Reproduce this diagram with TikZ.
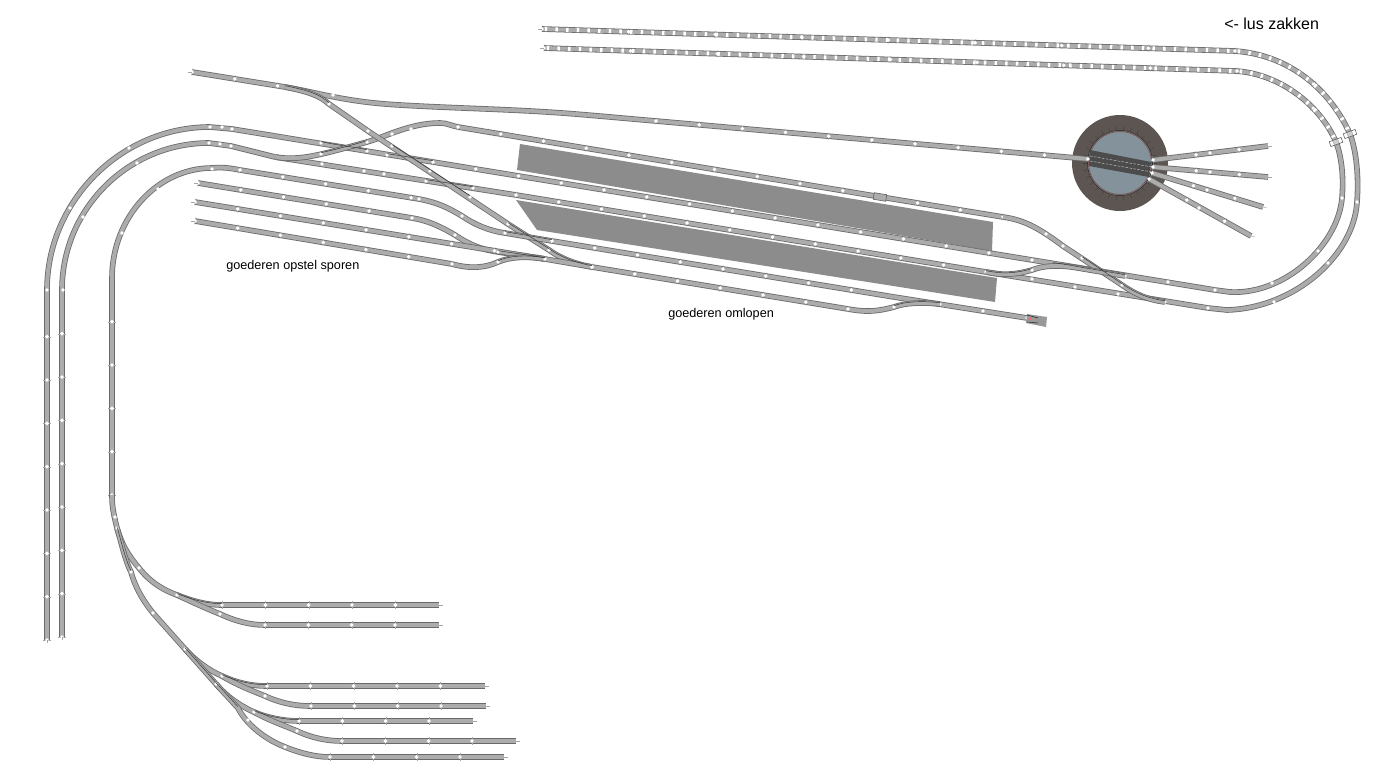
\documentclass[tikz,border=0pt]{standalone}
\usepackage{fontspec}
\setmainfont{Liberation Sans}
\usetikzlibrary{decorations.markings}
\definecolor{railedge}{HTML}{6A6A6A}
\definecolor{railfill}{HTML}{ACACAC}
\definecolor{platform}{HTML}{8C8C8C}
\definecolor{pitwall}{HTML}{5C5551}
\definecolor{pitfloor}{HTML}{84939B}
\definecolor{pitring}{HTML}{7A5F5F}
\definecolor{bridge}{HTML}{4C4C4C}
\tikzset{
  rail/.style={preaction={draw=railedge,line width=4.2pt},draw=railfill,line width=3pt},
  track/.style={rail,postaction={decorate,decoration={markings,
    mark=between positions 0 and -5pt step 32.5pt with {
      \draw[line width=0.2pt,draw=railedge!60] (0,-2.8pt) -- (0,2.8pt);
      \fill[white] (0,0) circle (1.45pt);}}}},
  lustrack/.style={rail,postaction={decorate,decoration={markings,
    mark=between positions 3pt and -3pt step 8pt with {
      \fill[white] (-0.9pt,-1.5pt) rectangle (0.9pt,1.5pt);}}},
    postaction={decorate,decoration={markings,
    mark=between positions 0 and -5pt step 65pt with {
      \draw[line width=0.2pt,draw=railedge!60] (0,-2.8pt) -- (0,2.8pt);
      \fill[white] (0,0) circle (1.45pt);}}}},
  joint/.style={fill=white},
  blade/.style={draw=black!80,line width=0.35pt,yshift=-1pt},
  stub/.style={draw=railedge!60,line width=0.3pt},
  feeder/.style={draw=black!65,fill=white,fill opacity=0.45,line width=0.4pt,minimum width=9.5pt,minimum height=3.8pt,inner sep=0pt},
  labeltext/.style={anchor=west,inner sep=0pt,font=\fontsize{9.5}{11}\selectfont},
}
\newcommand{\joints}[1]{\foreach \p in {#1} {\fill [joint] \p circle (1.95) ;}}
\begin{document}
\begin{tikzpicture}[x=0.75pt,y=0.75pt,yscale=-1,xscale=1]
\useasboundingbox (0,0) rectangle (1388,774);

%Shape: Platforms
\fill [platform] (520,144) -- (993,222) -- (992,251) -- (517,170) -- cycle ;
\fill [platform] (516,200) -- (997,278) -- (995,302) -- (537,230) -- cycle ;

%Shape: Turntable
\fill [pitwall] (1120,163) circle (48) ;
\foreach \a in {0,12,...,348} {\draw [black!75,line width=0.3pt] (1120,163) ++(\a:32) -- ++(\a:5) ;}
\draw [black!85,fill=pitfloor,line width=0.4pt] (1120,163) circle (32.5) ;
\draw [pitring,line width=0.8pt] (1120,163) circle (31.5) ;
\fill [bridge] (1090,150) -- (1151,162) -- (1149,177) -- (1089,166) -- cycle ;
\draw [white!80!black,dashed,dash pattern=on 2pt off 1pt,line width=0.3pt] (1090,156) -- (1152,167) (1090,161) -- (1152,172) ;

%Shape: Turntable spurs
\draw [track] (1153,160) -- (1268,146) ;
\draw [track] (1153,167) -- (1268,177) ;
\draw [track] (1152,173) -- (1263,207) ;
\draw [track] (1149,179) -- (1251,236) ;
\joints{(1210,153),(1210,172),(1207,190),(1199,208)}

%Shape: Lus
\draw [lustrack] (542,29) -- (1235,51) .. controls (1290,55) and (1330,90) .. (1350,134) ;
\draw [lustrack] (544,48) -- (1236,71) .. controls (1280,74) and (1320,105) .. (1336,142) ;
\draw [rail] (1350,134) .. controls (1356,150) and (1359,175) .. (1357,202) .. controls (1354,255) and (1295,308) .. (1227,310) -- (1208,308) ;
\draw [rail] (1336,142) .. controls (1341,155) and (1344,175) .. (1342,198) .. controls (1338,245) and (1285,295) .. (1230,292) -- (1215,290) ;
\joints{(1357,202),(1328,263),(1274,302),(1342,198),(1318,251),(1272,283)}

%Shape: Left curves
\draw [track] (47,640) -- (47,290) ;
\draw [rail] (47,290) .. controls (47,201) and (121,127) .. (210,127) -- (232,129) -- (275,136) ;
\draw [track] (62,637) -- (62,290) ;
\draw [rail] (62,290) .. controls (62,209) and (128,143) .. (209,143) -- (231,146) -- (275,157) ;
\joints{(47,290),(70,208),(129,148),(210,127),(222,127),(232,129),(63,290),(83,217),(137,163),(209,143),(220,144),(231,146)}

%Shape: Main through lines
\draw [rail] (275,136) -- (433,162) ;
\draw [track] (433,162) -- (1032,260) ;
\draw [rail] (1032,260) -- (1215,290) ;
\joints{(321,143),(367,151),(387,155),(1032,260),(1078,268),(1125,276),(1168,282),(1215,290)}
\draw [rail] (275,157) -- (516,195) ;
\draw [track] (516,195) -- (986,272) ;
\draw [rail] (986,272) -- (1208,308) ;
\joints{(322,164),(364,171),(384,174),(426,181),(473,188),(986,272),(1032,279),(1075,287),(1118,294),(1165,302),(1208,308)}

%Shape: Upper platform loop
\draw [rail] (275,157) .. controls (300,161) and (320,155) .. (367,142) .. controls (385,137) and (410,123) .. (440,123) .. controls (447,123) and (452,126) .. (458,127) ;
\draw [track] (458,127) -- (875,196) ;
\draw [track] (1003,217) -- (875,196) ;
\draw [rail] (1003,217) .. controls (1025,220) and (1040,229) .. (1063,246) -- (1122,285) .. controls (1135,294) and (1148,300) .. (1165,302) ;
\joints{(321,154),(367,142),(392,134),(411,129),(1046,234),(1063,246),(1082,258),(1122,285)}

%Shape: Crossover at the right
\draw [rail] (986,272) .. controls (1005,276) and (1018,274) .. (1032,270) .. controls (1045,265) and (1060,265) .. (1078,268) -- (1125,276) ;
\joints{(1032,270)}

%Shape: Upper track and diagonal
\draw [track] (192,72) -- (285,87) ;
\draw [rail] (285,87) .. controls (320,93) and (345,102) .. (400,105) .. controls (450,108) and (500,109) .. (547,112) .. controls (580,114) and (620,118) .. (656,121) ;
\draw [track] (656,121) -- (1088,159) ;
\draw [rail] (285,87) .. controls (310,92) and (320,96) .. (329,104) -- (368,131) -- (508,224) -- (549,250) .. controls (560,258) and (575,264) .. (592,267) ;
\joints{(333,95),(1088,159),(329,104),(368,131),(392,146),(430,171),(470,197),(508,224),(549,250)}

%Shape: Goods road with curve
\draw [rail] (212,168) .. controls (157,168) and (112,218) .. (112,278) ;
\draw [track] (112,495) -- (112,278) ;
\draw [rail] (212,168) .. controls (222,167) and (230,168) .. (240,170) ;
\draw [track] (240,170) -- (419,199) ;
\draw [rail] (419,199) .. controls (440,203) and (450,209) .. (462,216) .. controls (475,225) and (490,231) .. (505,233) -- (552,241) ;
\draw [track] (552,241) -- (894,297) ;
\draw [rail] (894,297) -- (1027,318) ;
\joints{(158,189),(122,233),(212,169),(419,199),(462,216),(505,233),(940,304),(983,311),(1027,318)}

%Shape: Goods sidings
\draw [track] (198,183) -- (412,218) ;
\draw [rail] (412,218) .. controls (430,221) and (443,228) .. (455,235) .. controls (470,245) and (480,249) .. (498,252) -- (545,259) ;
\draw [track] (195,202) -- (545,259) ;
\draw [rail] (545,259) -- (592,267) ;
\draw [track] (195,221) -- (452,264) ;
\draw [rail] (452,264) .. controls (470,269) and (485,268) .. (498,262) .. controls (510,257) and (525,256) .. (545,259) ;
\draw [track] (592,267) -- (848,309) ;
\draw [rail] (848,309) .. controls (865,312) and (875,312) .. (894,307) .. controls (905,303) and (920,302) .. (940,304) ;
\joints{(412,218),(455,235),(498,252),(452,264),(498,262),(545,259),(592,267),(848,309),(894,307)}

%Shape: Lower yard
\draw [rail] (112,495) .. controls (112,505) and (113,512) .. (117,528) ;
\draw [rail] (117,528) .. controls (122,545) and (128,555) .. (139,568) .. controls (150,582) and (163,590) .. (177,595) .. controls (190,600) and (205,605) .. (222,605) ;
\draw [track] (222,605) -- (439,605) ;
\draw [rail] (177,595) .. controls (190,601) and (205,608) .. (220,614) .. controls (235,621) and (250,625) .. (265,625) ;
\draw [track] (265,625) -- (439,625) ;
\draw [rail] (117,528) .. controls (122,545) and (125,560) .. (131,572) .. controls (136,590) and (145,603) .. (153,613) -- (185,649) ;
\draw [rail] (185,649) .. controls (195,660) and (208,670) .. (222,676) .. controls (235,682) and (250,686) .. (267,686) ;
\draw [track] (267,686) -- (485,686) ;
\draw [rail] (222,676) .. controls (235,684) and (250,690) .. (265,696) .. controls (280,703) and (295,706) .. (311,706) ;
\draw [track] (311,706) -- (486,706) ;
\draw [rail] (185,649) -- (216,684) ;
\draw [rail] (216,684) .. controls (225,695) and (240,706) .. (254,712) .. controls (268,718) and (285,721) .. (299,721) ;
\draw [track] (299,721) -- (473,721) ;
\draw [rail] (254,712) .. controls (268,720) and (283,725) .. (297,731) .. controls (312,738) and (327,741) .. (342,741) ;
\draw [track] (342,741) -- (516,741) ;
\draw [rail] (216,684) -- (238,708) .. controls (245,722) and (262,738) .. (285,747) .. controls (300,753) and (315,757) .. (330,757) ;
\draw [track] (330,757) -- (504,757) ;
\joints{(115,517),(117,528),(139,568),(177,595),(220,614),(131,572),(153,613),(185,649),(222,676),(265,696),(216,684),(254,712),(297,731),(248,720),(285,747)}

%Shape: Switch blades
\draw [blade] (285,87) .. controls (310,92) and (320,96) .. (329,104) ;
\draw [blade] (321,143) .. controls (340,147) and (358,149) .. (367,151) ;
\draw [blade] (321,154) .. controls (335,151) and (350,147) .. (367,142) ;
\draw [blade] (387,155) -- (433,162) ;
\draw [blade] (392,146) -- (470,197) ;
\draw [blade] (426,181) -- (473,188) ;
\draw [blade] (505,233) -- (552,241) ;
\draw [blade] (508,224) -- (549,250) .. controls (560,258) and (575,264) .. (592,267) ;
\draw [blade] (498,252) -- (545,259) ;
\draw [blade] (498,262) .. controls (510,257) and (525,256) .. (545,259) ;
\draw [blade] (894,307) .. controls (905,303) and (920,302) .. (940,304) ;
\draw [blade] (986,272) .. controls (1005,276) and (1018,274) .. (1032,270) ;
\draw [blade] (1053,264) .. controls (1060,265) and (1068,266) .. (1078,268) -- (1125,276) ;
\draw [blade] (1082,258) -- (1122,285) .. controls (1135,294) and (1148,300) .. (1165,302) ;
\draw [blade] (117,528) .. controls (122,545) and (125,560) .. (131,572) ;
\draw [blade] (177,595) .. controls (190,600) and (205,605) .. (222,605) ;
\draw [blade] (185,649) -- (216,684) ;
\draw [blade] (222,676) .. controls (235,682) and (250,686) .. (267,686) ;
\draw [blade] (254,712) .. controls (268,718) and (285,721) .. (299,721) ;
\draw [blade] (216,684) -- (238,708) ;
\draw [stub] (275,134) -- (275,139) (275,154) -- (275,159) (400,103) -- (400,107) (547,110) -- (547,114) ;

%Shape: Track ends
\foreach \ex/\ey/\dx/\dy in {542/29/-4/0,544/48/-4/0,192/72/-4/0,198/183/-4/0,195/202/-4/0,195/221/-4/0,47/640/0/3,62/637/0/3,439/605/4/0,439/625/4/0,485/686/4/0,486/706/4/0,473/721/4/0,516/741/4/0,504/757/4/0,1268/146/4/0,1268/177/4/0,1263/207/4/1,1251/236/4/1}
  {\draw [stub] (\ex,\ey) -- ++(\dx,\dy) ;}

%Shape: Buffer at track end
\fill [black!40] (1027,314) -- (1047,317) -- (1046,327) -- (1026,323) -- cycle ;
\draw [black!85,line width=0.4pt] (1027,315) -- (1038,318) (1027,322) -- (1038,323) ;
\fill [red!60] (1030,319) circle (1.6) ;

% Text Node
\node [feeder,rotate=20] (feederOuter) at (1350,134) {} ;
\node [feeder,rotate=20] (feederInner) at (1336,142) {} ;
\node [feeder,rotate=-9.5,fill=railfill,fill opacity=1,minimum height=5pt] (feederLoop) at (880,197) {} ;

% Text Node
\node [labeltext,font=\fontsize{12}{14}\selectfont] (lusLabel) at (1224,24) {<- lus zakken};
% Text Node
\node [labeltext] (opstelLabel) at (226,266) {goederen opstel sporen};
% Text Node
\node [labeltext] (omlopenLabel) at (668,314) {goederen omlopen};

\end{tikzpicture}
\end{document}
